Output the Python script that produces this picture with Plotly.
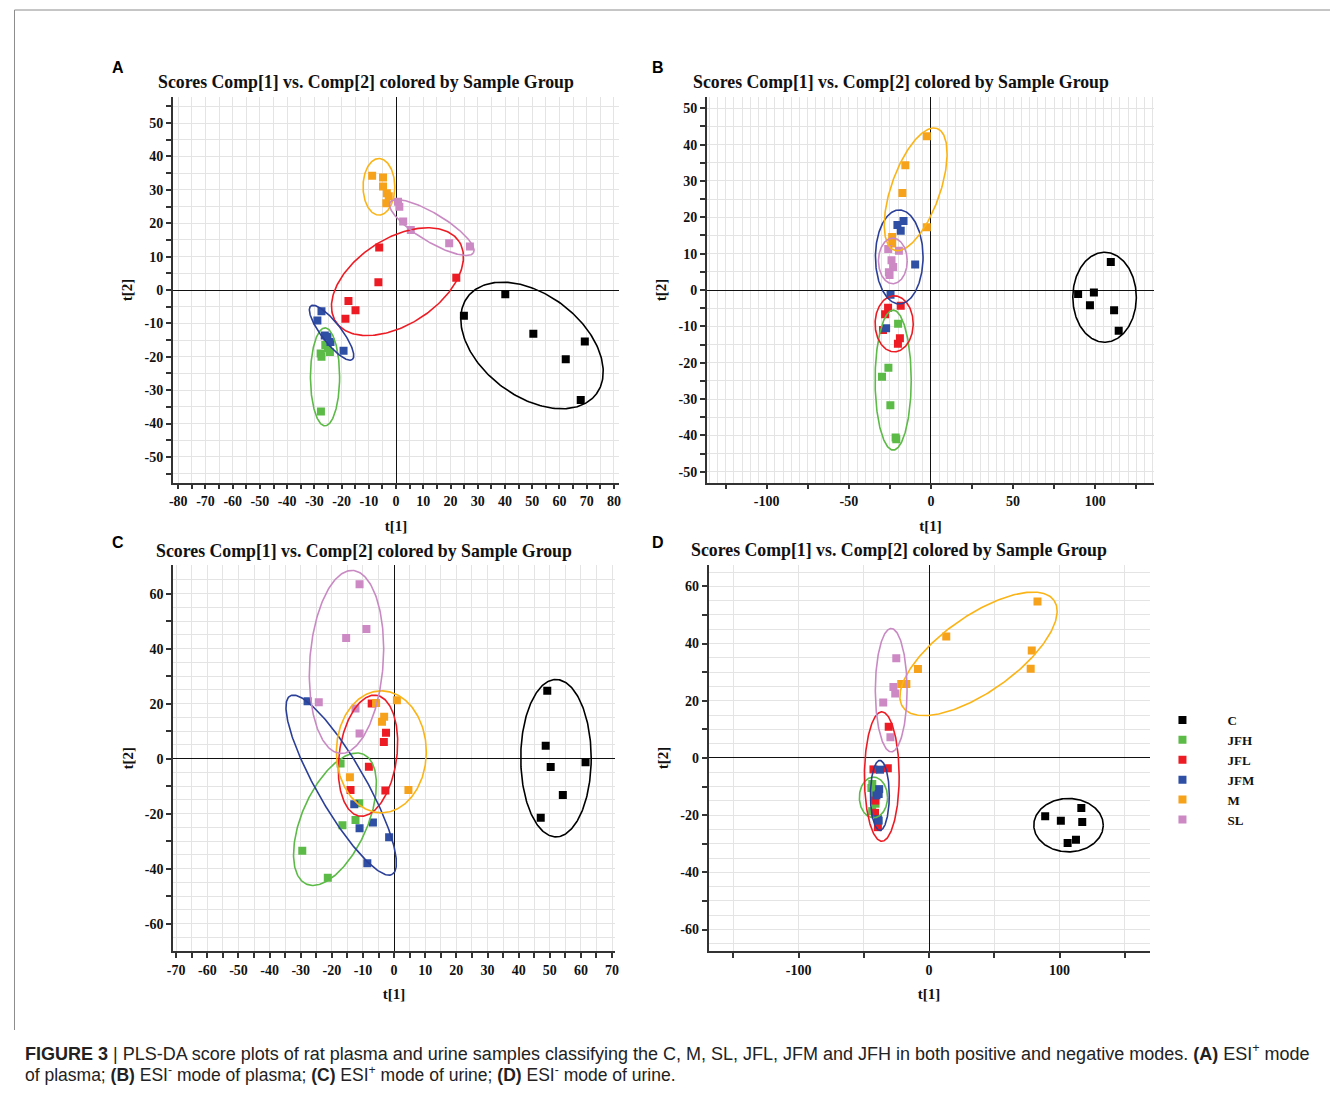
import numpy as np
import plotly.graph_objects as go

# The page places the figure 8 px in from the top-left corner (default body margin),
# so the figure is sized to fit the 1342x1093 window exactly.
OFF = 8
W, H = 1342 - 2 * OFF, 1093 - 2 * OFF
GROUPS = ["C", "JFH", "JFL", "JFM", "M", "SL"]

# ---------------- data (t[1], t[2] scores) ----------------
A_T1 = {"C": [40.1, 24.9, 50.4, 69.3, 62.3, 67.8],
        "JFH": [-27.7, -27.4, -24.3, -25.0, -26.0, -27.6],
        "JFL": [-6.2, -6.5, 22.1, -17.5, -14.9, -18.6],
        "JFM": [-27.4, -28.9, -26.2, -25.2, -24.1, -19.3],
        "M": [-8.8, -4.8, -4.8, -3.4, -2.7, -3.6],
        "SL": [0.7, 1.2, 2.6, 5.4, 19.5, 27.1]}
A_T2 = {"C": [-1.3, -7.7, -13.1, -15.4, -20.7, -32.9],
        "JFH": [-19.0, -20.0, -18.6, -17.5, -16.5, -36.4],
        "JFL": [12.7, 2.3, 3.7, -3.3, -6.1, -8.6],
        "JFM": [-6.4, -9.1, -13.6, -14.0, -15.6, -18.2],
        "M": [34.2, 33.7, 31.0, 29.0, 28.1, 26.0],
        "SL": [26.4, 24.9, 20.5, 18.0, 14.0, 13.0]}

B_T1 = {"C": [109.5, 89.6, 99.2, 96.8, 111.5, 114.3],
        "JFH": [-20.0, -25.9, -29.8, -24.7, -21.5, -21.1],
        "JFL": [-26.1, -18.4, -27.9, -29.2, -18.9, -20.1],
        "JFM": [-20.4, -16.7, -18.4, -9.6, -24.6, -27.3],
        "M": [-2.5, -15.6, -17.4, -2.5, -23.6, -23.6],
        "SL": [-26.0, -19.5, -24.0, -23.0, -25.6, -25.2]}
B_T2 = {"C": [7.7, -1.1, -0.7, -4.2, -5.6, -11.2],
        "JFH": [-9.3, -21.4, -23.9, -31.7, -40.6, -41.1],
        "JFL": [-4.9, -4.3, -6.7, -11.0, -13.3, -14.8],
        "JFM": [17.9, 19.0, 16.3, 7.0, -1.3, -10.5],
        "M": [42.3, 34.3, 26.7, 17.3, 14.6, 12.8],
        "SL": [11.3, 10.8, 8.2, 6.3, 4.9, 4.1]}

C_T1 = {"C": [49.2, 48.7, 50.3, 61.5, 54.2, 47.1],
        "JFH": [-17.2, -11.2, -12.4, -16.6, -29.5, -21.3],
        "JFL": [-7.2, -2.6, -3.3, -8.1, -14.0, -2.8],
        "JFM": [-27.8, -12.8, -11.1, -6.8, -1.6, -8.6],
        "M": [0.9, -5.8, -3.2, -3.9, -14.2, 4.6],
        "SL": [-11.1, -8.9, -15.4, -24.2, -12.4, -11.1]}
C_T2 = {"C": [24.7, 4.7, -3.0, -1.3, -13.2, -21.5],
        "JFH": [-1.7, -16.2, -22.3, -24.2, -33.5, -43.3],
        "JFL": [20.1, 9.4, 6.1, -2.9, -11.4, -11.6],
        "JFM": [20.9, -16.6, -25.3, -23.2, -28.6, -38.0],
        "M": [21.3, 20.3, 15.3, 13.4, -6.7, -11.4],
        "SL": [63.4, 47.2, 43.9, 20.5, 18.3, 9.2]}

D_T1 = {"C": [89.0, 101.0, 116.7, 117.4, 112.6, 106.2],
        "JFH": [-43.5, -44.2, -42.0, -41.5, -43.6, -41.0],
        "JFL": [-30.9, -31.6, -42.6, -41.2, -41.4, -39.2],
        "JFM": [-37.6, -38.2, -40.3, -38.6, -39.2, -38.6],
        "M": [83.1, 13.2, 78.7, -8.5, 77.9, -17.4, -21.3],
        "SL": [-25.1, -27.3, -25.9, -35.1, -29.6]}
D_T2 = {"C": [-20.4, -22.0, -17.5, -22.4, -28.6, -29.7],
        "JFH": [-9.1, -10.5, -12.0, -13.5, -18.6, -16.0],
        "JFL": [10.9, -3.6, -4.0, -14.9, -19.2, -24.2],
        "JFM": [-4.1, -10.9, -13.1, -12.6, -21.4, -21.9],
        "M": [54.7, 42.5, 37.6, 31.1, 31.2, 25.9, 25.9],
        "SL": [34.9, 24.8, 22.5, 19.4, 7.2]}

PANEL_DATA = {"A": (A_T1, A_T2), "B": (B_T1, B_T2), "C": (C_T1, C_T2), "D": (D_T1, D_T2)}

# ---------------- styling / layout ----------------
MARKER_COLORS = {"C": "#000000", "JFH": "#5cba47", "JFL": "#ed1c24",
                 "JFM": "#2e4fa3", "M": "#f7a21b", "SL": "#cc89c4"}
ELL_COLORS = {"C": "#000000", "JFH": "#5cba47", "JFL": "#ed1c24",
              "JFM": "#2b3f98", "M": "#fbb417", "SL": "#c98ac3"}

# confidence ellipses: centre (data), semi-axes (px), rotation (deg, screen)
ELLIPSES = {
    "A": {"M": (-6.3, 30.9, 16, 28.3, 0), "SL": (13.1, 18.7, 49, 14, -31),
          "JFL": (0.5, 2.5, 74, 43, 32.6), "JFM": (-23.7, -12.8, 34, 10, -52),
          "JFH": (-26.1, -26.0, 14.7, 49, 0), "C": (49.9, -16.6, 81, 51, -36.6)},
    "B": {"M": (-9.3, 27.7, 64.6, 24.5, 70.4), "JFM": (-19.3, 9.1, 24, 47, 0),
          "SL": (-23.2, 8.0, 14.5, 22.8, 0), "JFL": (-22.4, -9.3, 19.2, 28, 0),
          "JFH": (-23.0, -24.8, 18.2, 70, 0), "C": (105.7, -2.0, 32, 45, 0)},
    "C": {"SL": (-15.3, 35.2, 91.7, 37, 86), "JFM": (-17.0, -9.6, 103, 24.3, -60),
          "JFH": (-19.0, -22.0, 71, 33, 66), "JFL": (-8.4, 1.1, 61, 29, 82),
          "M": (-4.1, 2.5, 45.3, 61, 0), "C": (52.0, 0.2, 35.5, 78.7, 0)},
    "D": {"M": (37.9, 36.4, 93, 38, 35), "SL": (-29.0, 23.7, 16, 61.7, 0),
          "JFL": (-36.2, -6.5, 17.5, 64.7, 0), "JFM": (-37.7, -13.1, 9.5, 35, 0),
          "JFH": (-42.6, -13.8, 14.2, 20.3, 0), "C": (106.9, -23.5, 35, 26.7, 0)},
}

# plot areas in window pixels (left, right, top, bottom) and axis ranges
PANELS = {
    "A": dict(px=(168, 618, 97.3, 482.7), xr=(-82, 82), yr=(-57.7, 57.7), letter=(113, 67),
              title=(363, 82)),
    "B": dict(px=(706, 1157, 97.4, 482.6), xr=(-136.5, 136), yr=(-53, 53), letter=(657, 67),
              title=(902, 82)),
    "C": dict(px=(168.3, 613.7, 565.4, 951.2), xr=(-71, 71), yr=(-70, 70.3), letter=(113, 542),
              title=(361, 551)),
    "D": dict(px=(707.8, 1152.2, 565.2, 951), xr=(-169, 169), yr=(-67.5, 67.4), letter=(657, 542),
              title=(900, 550)),
}

SERIF = "Liberation Serif, Times New Roman, serif"
SANS = "Liberation Sans, Arial, sans-serif"
AX_COL = "#333333"
GRID_COL = "#e4e4e4"


def ticks(start, stop, step, label_step):
    vals = list(np.arange(start, stop + step / 2, step))
    txt = [str(int(round(v))) if abs(round(v / label_step) * label_step - v) < 1e-6 else "" for v in vals]
    return [float(v) for v in vals], txt


AXES = {
    "A": dict(x=ticks(-80, 80, 10, 10), xminor=5, xminor_ticks=True,
              y=ticks(-50, 50, 10, 10), yminor=5, yminor_ticks=True),
    "B": dict(x=ticks(-125, 125, 25, 50), xminor=5, xminor_ticks=False,
              y=ticks(-50, 50, 10, 10), yminor=5, yminor_ticks=True),
    "C": dict(x=ticks(-70, 70, 10, 10), xminor=5, xminor_ticks=True,
              y=ticks(-60, 60, 10, 20), yminor=5, yminor_ticks=False),
    "D": dict(x=ticks(-150, 150, 50, 100), xminor=50, xminor_ticks=False,
              y=ticks(-60, 60, 10, 20), yminor=5, yminor_ticks=False),
}


def fx(p):
    return (p - OFF) / W


def fy(p):
    return 1 - (p - OFF) / H


fig = go.Figure()
layout = dict(width=W, height=H, margin=dict(l=0, r=0, t=0, b=0),
              paper_bgcolor="white", plot_bgcolor="white", showlegend=True)
annotations = []
shapes = []

t = np.linspace(0, 2 * np.pi, 241)

for i, (pname, p) in enumerate(PANELS.items()):
    n = "" if i == 0 else str(i + 1)
    xa, ya = "x" + n, "y" + n
    l, r, tp, bt = p["px"]
    ax = AXES[pname]
    common = dict(showline=True, linecolor=AX_COL, linewidth=1.5, ticks="outside",
                  ticklen=5, tickwidth=1.5, tickcolor=AX_COL, showgrid=True,
                  gridcolor=GRID_COL, gridwidth=1, zeroline=True, zerolinecolor="#111111",
                  zerolinewidth=1.2, mirror=False, fixedrange=True,
                  tickfont=dict(family=SERIF, size=14, color="#111111", weight="bold"))
    layout["xaxis" + n] = dict(common, domain=[fx(l), fx(r)], range=list(p["xr"]), anchor=ya,
                               tickmode="array", tickvals=ax["x"][0], ticktext=ax["x"][1],
                               minor=dict(dtick=ax["xminor"], showgrid=True, gridcolor=GRID_COL,
                                          ticks="outside" if ax["xminor_ticks"] else "",
                                          ticklen=5, tickwidth=1.5, tickcolor=AX_COL),
                               title=dict(text="t[1]", standoff=12,
                                          font=dict(family=SERIF, size=15, color="#111111", weight="bold")))
    layout["yaxis" + n] = dict(common, domain=[fy(bt), fy(tp)], range=list(p["yr"]), anchor=xa,
                               tickmode="array", tickvals=ax["y"][0], ticktext=ax["y"][1],
                               minor=dict(dtick=ax["yminor"], showgrid=True, gridcolor=GRID_COL,
                                          ticks="outside" if ax["yminor_ticks"] else "",
                                          ticklen=5, tickwidth=1.5, tickcolor=AX_COL),
                               title=dict(text="t[2]", standoff=8,
                                          font=dict(family=SERIF, size=15, color="#111111", weight="bold")))

    sx = (r - l) / (p["xr"][1] - p["xr"][0])
    sy = (bt - tp) / (p["yr"][1] - p["yr"][0])
    T1, T2 = PANEL_DATA[pname]
    for g in GROUPS:
        fig.add_trace(go.Scatter(x=T1[g], y=T2[g], mode="markers", name=g, legendgroup=g,
                                 showlegend=(pname == "A"), xaxis=xa, yaxis=ya,
                                 marker=dict(symbol="square", size=8, color=MARKER_COLORS[g],
                                             line=dict(width=0))))
    for g in GROUPS:
        cx, cy, rx, ry, rot = ELLIPSES[pname][g]
        th = np.deg2rad(rot)
        ux = rx * np.cos(t) * np.cos(th) - ry * np.sin(t) * np.sin(th)
        uy = rx * np.cos(t) * np.sin(th) + ry * np.sin(t) * np.cos(th)
        fig.add_trace(go.Scatter(x=cx + ux / sx, y=cy + uy / sy, mode="lines", showlegend=False,
                                 legendgroup=g, hoverinfo="skip", xaxis=xa, yaxis=ya,
                                 line=dict(color=ELL_COLORS[g], width=1.6)))

    lx, ly = p["letter"]
    annotations.append(dict(text="<b>%s</b>" % pname, x=fx(lx), y=fy(ly), xref="paper", yref="paper",
                            showarrow=False, xanchor="center", yanchor="middle",
                            font=dict(family=SANS, size=16, color="#000000")))
    tx, ty = p["title"]
    annotations.append(dict(text="<b>Scores Comp[1] vs. Comp[2] colored by Sample Group</b>",
                            x=fx(tx), y=fy(ty), xref="paper", yref="paper", showarrow=False,
                            xanchor="center", yanchor="middle",
                            font=dict(family=SERIF, size=17.8, color="#111111")))

# caption
annotations.append(dict(
    text="<b>FIGURE 3</b> | PLS-DA score plots of rat plasma and urine samples classifying the C, M, SL, JFL, "
         "JFM and JFH in both positive and negative modes. <b>(A)</b> ESI<sup>+</sup> mode",
    x=fx(17), y=fy(1052), xref="paper", yref="paper", showarrow=False, xanchor="left", yanchor="middle",
    font=dict(family=SANS, size=18, color="#222222")))
annotations.append(dict(
    text="of plasma; <b>(B)</b> ESI<sup>-</sup> mode of plasma; <b>(C)</b> ESI<sup>+</sup> mode of urine; "
         "<b>(D)</b> ESI<sup>-</sup> mode of urine.",
    x=fx(17), y=fy(1074), xref="paper", yref="paper", showarrow=False, xanchor="left", yanchor="middle",
    font=dict(family=SANS, size=17.5, color="#222222")))

# figure frame lines (top and left)
shapes.append(dict(type="line", xref="paper", yref="paper", x0=fx(OFF + 0.5), x1=1, y0=fy(10), y1=fy(10),
                   line=dict(color="#8c8c8c", width=1)))
shapes.append(dict(type="line", xref="paper", yref="paper", x0=fx(OFF + 0.5), x1=fx(OFF + 0.5),
                   y0=fy(10), y1=fy(1030), line=dict(color="#8c8c8c", width=1)))

layout["annotations"] = annotations
layout["shapes"] = shapes
layout["legend"] = dict(x=fx(1140), y=fy(705), xanchor="left", yanchor="top", itemwidth=80,
                        bgcolor="rgba(0,0,0,0)", borderwidth=0, tracegroupgap=0,
                        font=dict(family=SERIF, size=13, color="#111111", weight="bold"))
fig.update_layout(**layout)
fig.write_html("out.html")
